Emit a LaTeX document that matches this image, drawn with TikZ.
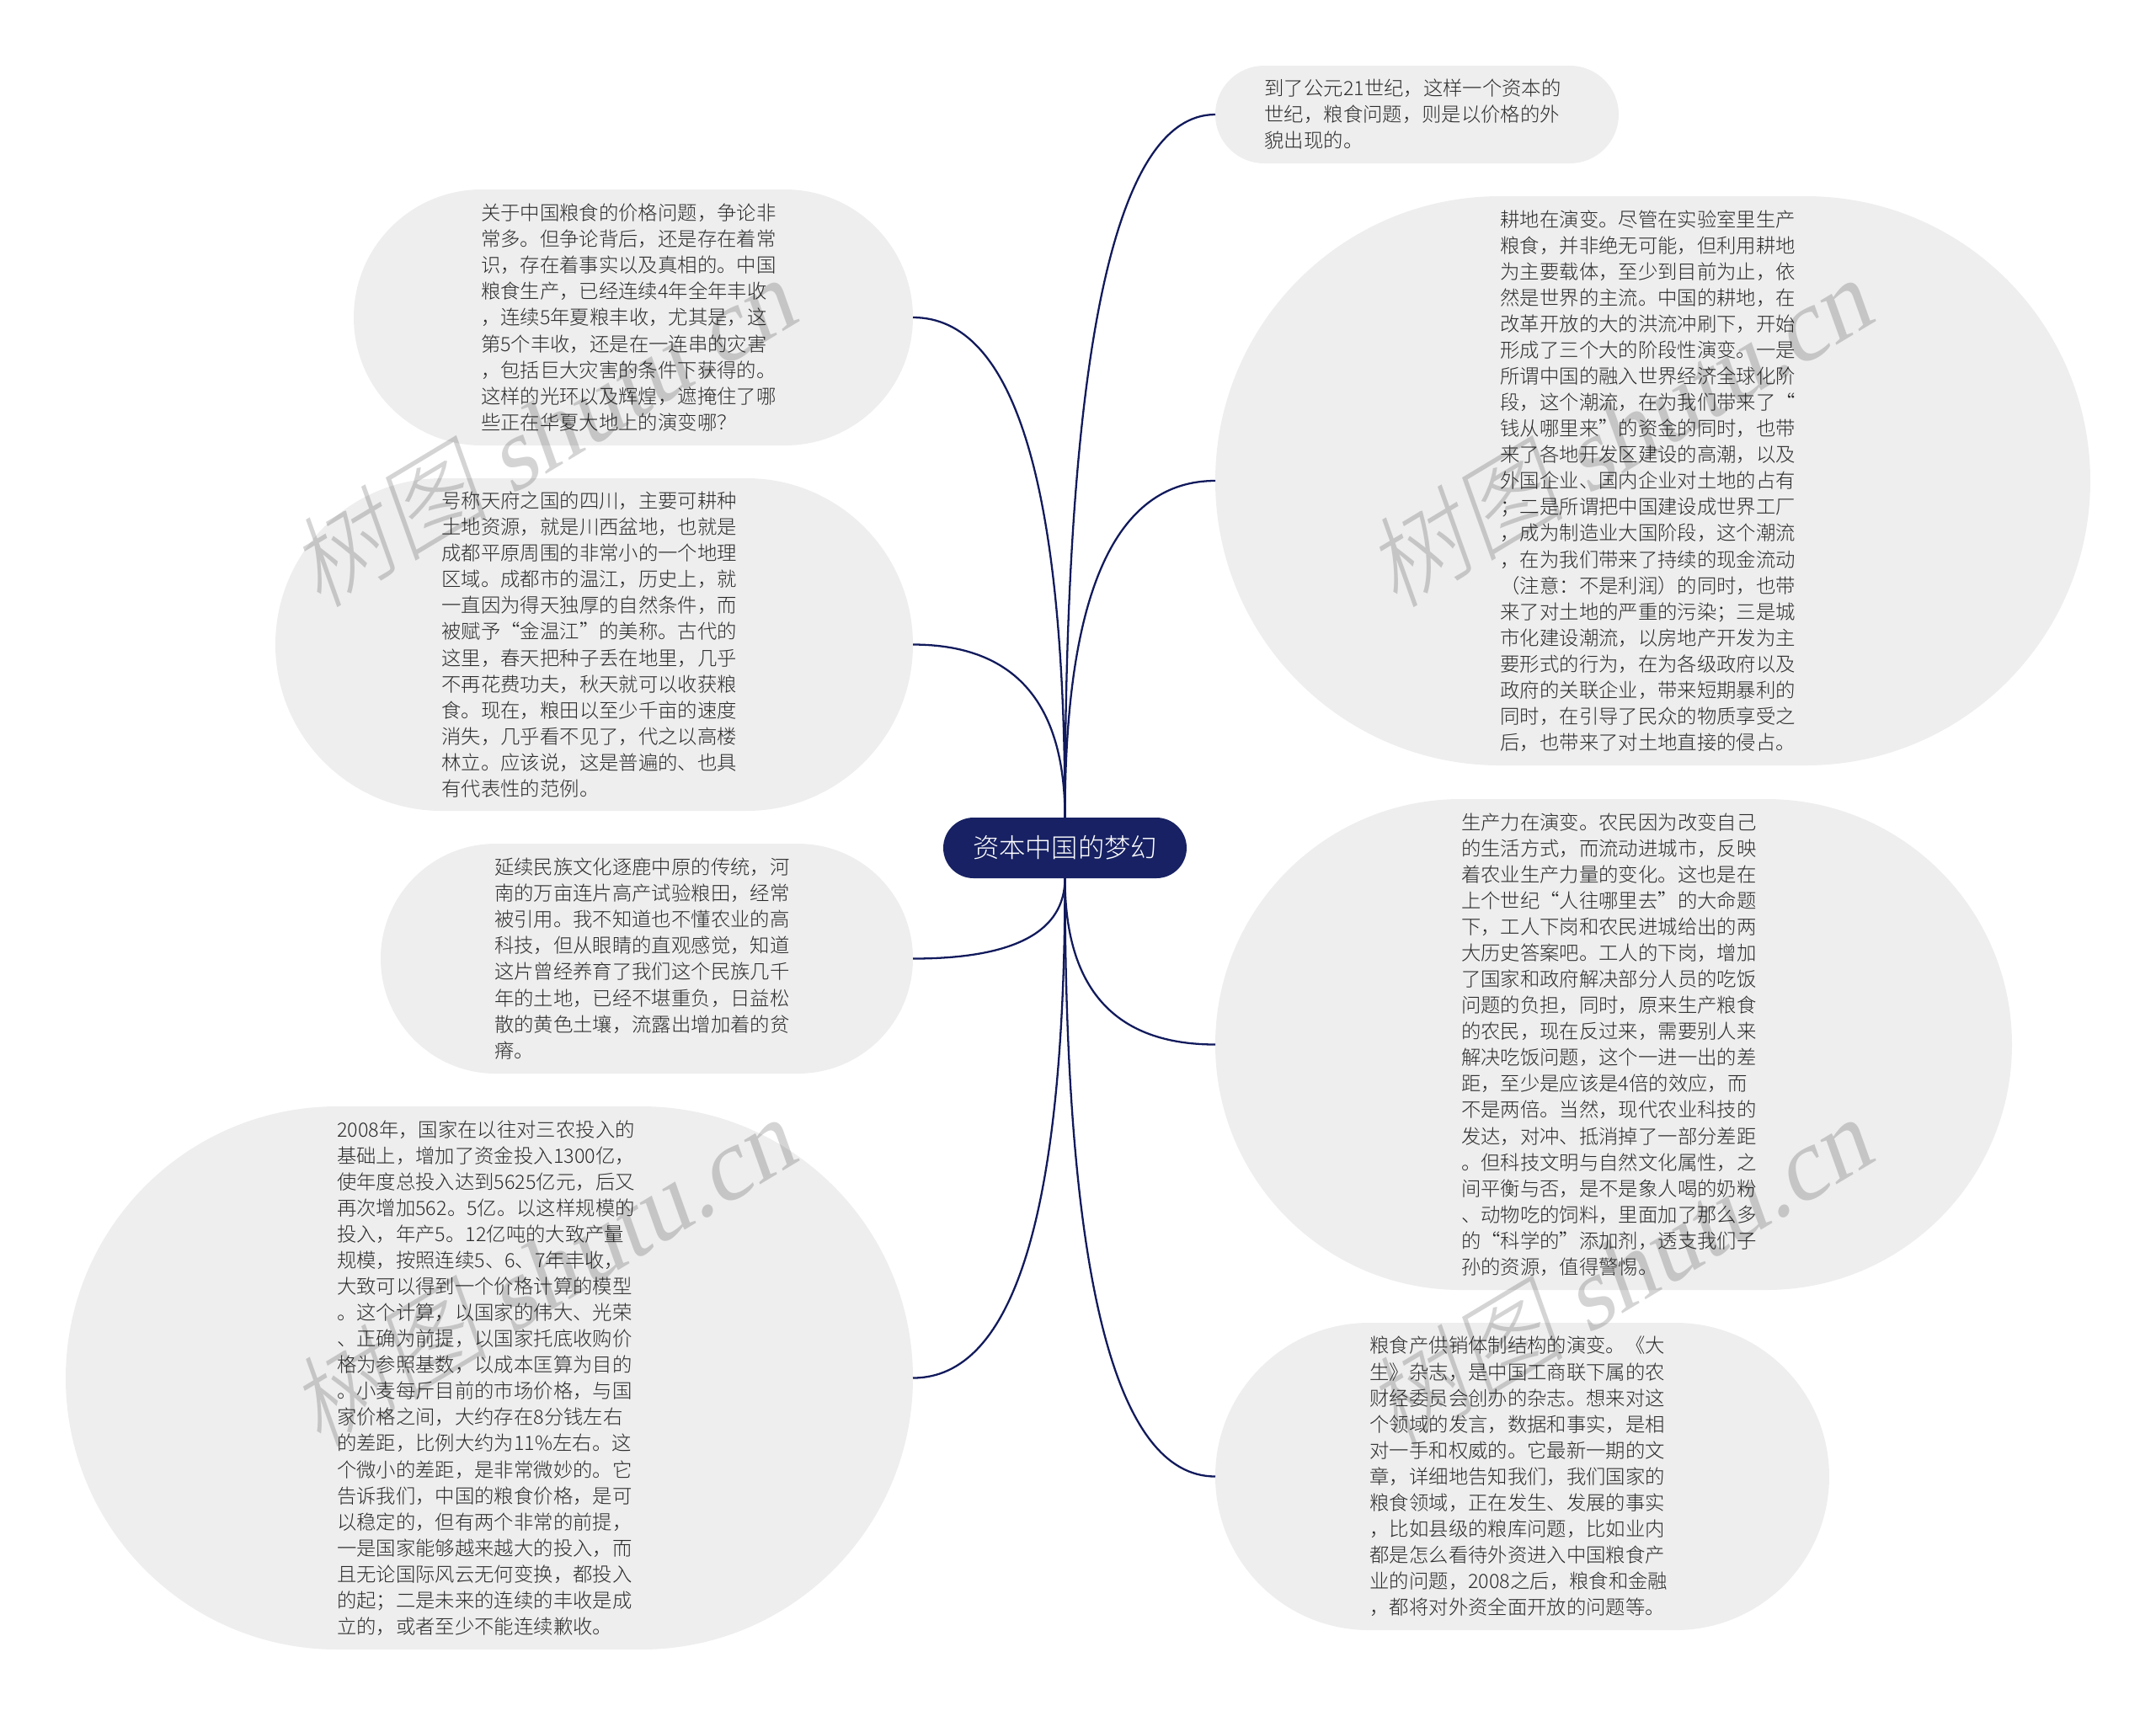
\documentclass[tikz,border=0pt]{standalone}
\usepackage{fontspec}
\setmainfont{Noto Sans CJK SC Light}
\newfontfamily\marklatin[FakeSlant=0.2]{Liberation Serif}
\newfontfamily\markcjk[FakeSlant=0.2]{Noto Sans CJK SC Light}
\definecolor{navy}{HTML}{172163}
\definecolor{bough}{HTML}{111a5c}
\definecolor{leafgrey}{HTML}{EEEEEE}
\definecolor{inkgrey}{HTML}{2B2B2B}
\usetikzlibrary{calc}
\tikzset{every node/.style={inner sep=0pt, outer sep=0pt}}
\tikzset{root/.style={fill=navy, text=white, rounded corners=0.36cm, minimum width=2.89cm, minimum height=0.72cm, font=\fontsize{8.9pt}{10pt}\selectfont}}
\tikzset{leaf/.style 2 args={fill=leafgrey, text=inkgrey, text width=3.62cm, align=left, font=\fontsize{6.65pt}{8.84pt}\selectfont, minimum width=#1cm, minimum height=#2cm, rounded corners=0.5*#2cm}}
\tikzset{watermark/.style={rotate=31, text=black, text opacity=0.17, font=\fontsize{34pt}{35pt}\selectfont}}
\tikzset{limb/.style={draw=bough, line width=0.65pt}}
\newcommand{\bough}[2]{\draw[limb] (#1) .. controls ($(#1)!0.667!(#1 |- #2)$) and ($(#2)!0.667!(#1 |- #2)$) .. (#2);}
\begin{document}
\begin{tikzpicture}
   \useasboundingbox (0,0) rectangle (25.6,-20.37);
   \node[root] (root) at (12.645,-10.07) {资本中国的梦幻};
   \node[leaf={4.79}{1.16}] (n1) at (16.825,-1.36) {到了公元21世纪，这样一个资本的\\世纪，粮食问题，则是以价格的外\\貌出现的。};
   \node[leaf={10.39}{6.76}] (n2) at (19.625,-5.71) {耕地在演变。尽管在实验室里生产\\粮食，并非绝无可能，但利用耕地\\为主要载体，至少到目前为止，依\\然是世界的主流。中国的耕地，在\\改革开放的大的洪流冲刷下，开始\\形成了三个大的阶段性演变。一是\\所谓中国的融入世界经济全球化阶\\段，这个潮流，在为我们带来了“\\钱从哪里来”的资金的同时，也带\\来了各地开发区建设的高潮，以及\\外国企业、国内企业对土地的占有\\；二是所谓把中国建设成世界工厂\\，成为制造业大国阶段，这个潮流\\，在为我们带来了持续的现金流动\\（注意：不是利润）的同时，也带\\来了对土地的严重的污染；三是城\\市化建设潮流，以房地产开发为主\\要形式的行为，在为各级政府以及\\政府的关联企业，带来短期暴利的\\同时，在引导了民众的物质享受之\\后，也带来了对土地直接的侵占。};
   \node[leaf={9.46}{5.83}] (n3) at (19.16,-12.405) {生产力在演变。农民因为改变自己\\的生活方式，而流动进城市，反映\\着农业生产力量的变化。这也是在\\上个世纪“人往哪里去”的大命题\\下，工人下岗和农民进城给出的两\\大历史答案吧。工人的下岗，增加\\了国家和政府解决部分人员的吃饭\\问题的负担，同时，原来生产粮食\\的农民，现在反过来，需要别人来\\解决吃饭问题，这个一进一出的差\\距，至少是应该是4倍的效应，而\\不是两倍。当然，现代农业科技的\\发达，对冲、抵消掉了一部分差距\\。但科技文明与自然文化属性，之\\间平衡与否，是不是象人喝的奶粉\\、动物吃的饲料，里面加了那么多\\的“科学的”添加剂，透支我们子\\孙的资源，值得警惕。};
   \node[leaf={7.29}{3.65}] (n4) at (18.075,-17.535) {粮食产供销体制结构的演变。《大\\生》杂志，是中国工商联下属的农\\财经委员会创办的杂志。想来对这\\个领域的发言，数据和事实，是相\\对一手和权威的。它最新一期的文\\章，详细地告知我们，我们国家的\\粮食领域，正在发生、发展的事实\\，比如县级的粮库问题，比如业内\\都是怎么看待外资进入中国粮食产\\业的问题，2008之后，粮食和金融\\，都将对外资全面开放的问题等。};
   \node[leaf={6.64}{3.04}] (m1) at (7.52,-3.77) {关于中国粮食的价格问题，争论非\\常多。但争论背后，还是存在着常\\识，存在着事实以及真相的。中国\\粮食生产，已经连续4年全年丰收\\，连续5年夏粮丰收，尤其是，这\\第5个丰收，还是在一连串的灾害\\，包括巨大灾害的条件下获得的。\\这样的光环以及辉煌，遮掩住了哪\\些正在华夏大地上的演变哪？};
   \node[leaf={7.57}{3.95}] (m2) at (7.055,-7.655) {号称天府之国的四川，主要可耕种\\土地资源，就是川西盆地，也就是\\成都平原周围的非常小的一个地理\\区域。成都市的温江，历史上，就\\一直因为得天独厚的自然条件，而\\被赋予“金温江”的美称。古代的\\这里，春天把种子丢在地里，几乎\\不再花费功夫，秋天就可以收获粮\\食。现在，粮田以至少千亩的速度\\消失，几乎看不见了，代之以高楼\\林立。应该说，这是普遍的、也具\\有代表性的范例。};
   \node[leaf={6.32}{2.73}] (m3) at (7.68,-11.385) {延续民族文化逐鹿中原的传统，河\\南的万亩连片高产试验粮田，经常\\被引用。我不知道也不懂农业的高\\科技，但从眼睛的直观感觉，知道\\这片曾经养育了我们这个民族几千\\年的土地，已经不堪重负，日益松\\散的黄色土壤，流露出增加着的贫\\瘠。};
   \node[leaf={10.06}{6.45}] (m4) at (5.81,-16.365) {2008年，国家在以往对三农投入的\\基础上，增加了资金投入1300亿，\\使年度总投入达到5625亿元，后又\\再次增加562。5亿。以这样规模的\\投入，年产5。12亿吨的大致产量\\规模，按照连续5、6、7年丰收，\\大致可以得到一个价格计算的模型\\。这个计算，以国家的伟大、光荣\\、正确为前提，以国家托底收购价\\格为参照基数，以成本匡算为目的\\。小麦每斤目前的市场价格，与国\\家价格之间，大约存在8分钱左右\\的差距，比例大约为11\%左右。这\\个微小的差距，是非常微妙的。它\\告诉我们，中国的粮食价格，是可\\以稳定的，但有两个非常的前提，\\一是国家能够越来越大的投入，而\\且无论国际风云无何变换，都投入\\的起；二是未来的连续的丰收是成\\立的，或者至少不能连续歉收。};
   \bough{root.north}{n1.west}
   \bough{root.north}{n2.west}
   \bough{root.south}{n3.west}
   \bough{root.south}{n4.west}
   \bough{root.north}{m1.east}
   \bough{root.north}{m2.east}
   \bough{root.south}{m3.east}
   \bough{root.south}{m4.east}
   \node[watermark] (wm1) at (6.42,-5.14) {{\markcjk 树图} {\marklatin shutu.cn}};
   \node[watermark] (wm2) at (19.2,-5.14) {{\markcjk 树图} {\marklatin shutu.cn}};
   \node[watermark] (wm3) at (6.42,-15.11) {{\markcjk 树图} {\marklatin shutu.cn}};
   \node[watermark] (wm4) at (19.2,-15.11) {{\markcjk 树图} {\marklatin shutu.cn}};
\end{tikzpicture}
\end{document}
